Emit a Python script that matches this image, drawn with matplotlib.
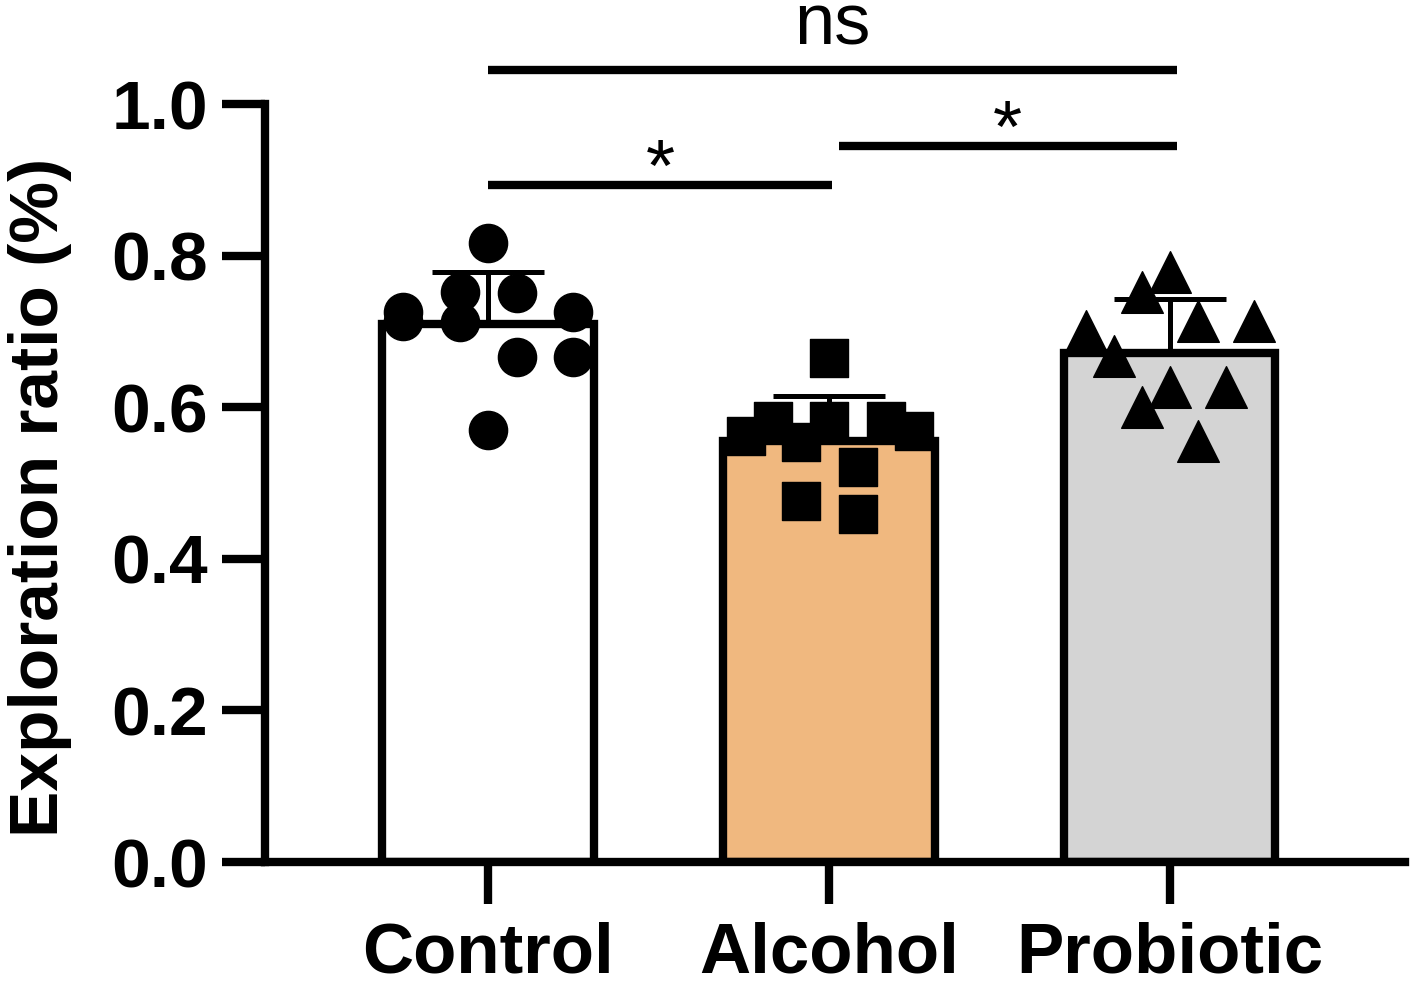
import matplotlib
matplotlib.use("Agg")
import matplotlib.pyplot as plt
import numpy as np

plt.rcParams['font.family'] = ['Liberation Sans', 'DejaVu Sans']

groups = ["Control", "Alcohol", "Probiotic"]
means = [0.710, 0.555, 0.672]
sd = [0.068, 0.060, 0.071]
bar_colors = ["#FFFFFF", "#F0B87F", "#D4D4D4"]

# individual animals, values
control_y = [0.817, 0.752, 0.712, 0.751, 0.726, 0.714, 0.726, 0.666, 0.666, 0.570]
control_dx = [0, -0.082, -0.082, 0.085, -0.249, -0.249, 0.249, 0.085, 0.249, 0]
alcohol_y = [0.665, 0.562, 0.582, 0.554, 0.582, 0.521, 0.582, 0.569, 0.476, 0.459]
alcohol_dx = [0, -0.243, -0.164, -0.082, 0, 0.085, 0.167, 0.249, -0.082, 0.085]
probiotic_y = [0.778, 0.752, 0.701, 0.668, 0.714, 0.714, 0.627, 0.600, 0.627, 0.555]
probiotic_dx = [0, -0.082, -0.246, -0.164, 0.082, 0.246, 0, -0.082, 0.164, 0.082]

yticks = [0.0, 0.2, 0.4, 0.6, 0.8, 1.0]
ytick_labels = ["0.0", "0.2", "0.4", "0.6", "0.8", "1.0"]

# comparisons: (left group, right group, line height, label)
comparisons = [(0, 2, 1.045, "ns"), (0, 1, 0.893, "*"), (1, 2, 0.945, "*")]

fig = plt.figure(figsize=(14.12, 9.89), dpi=100)
ax = fig.add_axes([0.1877, 0.1284, 0.8073, 0.7664])

x = np.arange(len(groups))
ax.bar(x, means, width=0.62, color=bar_colors, edgecolor="black", linewidth=6, zorder=2)
ax.errorbar(x, means, yerr=[np.zeros(len(sd)), sd], fmt="none", ecolor="black",
            elinewidth=3.6, capsize=40, capthick=3.6, zorder=3)

ms = 27.5 ** 2
ax.scatter(x[0] + np.array(control_dx), control_y, marker="o", s=ms, color="black", zorder=4, clip_on=False)
ax.scatter(x[1] + np.array(alcohol_dx), alcohol_y, marker="s", s=ms, color="black", zorder=4, clip_on=False)
ax.scatter(x[2] + np.array(probiotic_dx), probiotic_y, marker="^", s=30 ** 2, color="black", zorder=4, clip_on=False)

# significance lines
for a, b, h, lab in comparisons:
    x0 = x[a] + (0.03 if a == 1 else 0.0)
    x1 = x[b] + (0.01 if b == 1 else 0.02)
    ax.plot([x0, x1], [h, h], color="black", linewidth=6, solid_capstyle="butt", clip_on=False)
    if lab == "ns":
        ax.text((x0 + x1) / 2, h + 0.033, lab, ha="center", va="baseline", fontsize=52)
    else:
        ax.text((x0 + x1) / 2, h - 0.028, lab, ha="center", va="bottom", fontsize=54)

ax.set_xlim(-0.654, 2.69)
ax.set_ylim(0, 1.0)
ax.set_yticks(yticks)
ax.set_yticklabels(ytick_labels, fontsize=50, fontweight="bold")
ax.set_xticks(x)
ax.set_xticklabels(groups, fontsize=51, fontweight="bold")
ax.tick_params(axis="y", length=31, width=6, pad=10)
ax.tick_params(axis="x", length=30, width=6, pad=13)

for s in ["top", "right"]:
    ax.spines[s].set_visible(False)
for s in ["left", "bottom"]:
    ax.spines[s].set_linewidth(6)

fig.text(40 / 1412, 1 - 497 / 989, "Exploration ratio (%)", rotation=90, ha="center", va="center",
         fontsize=50, fontweight="bold")

plt.savefig("out.png", dpi=100)
